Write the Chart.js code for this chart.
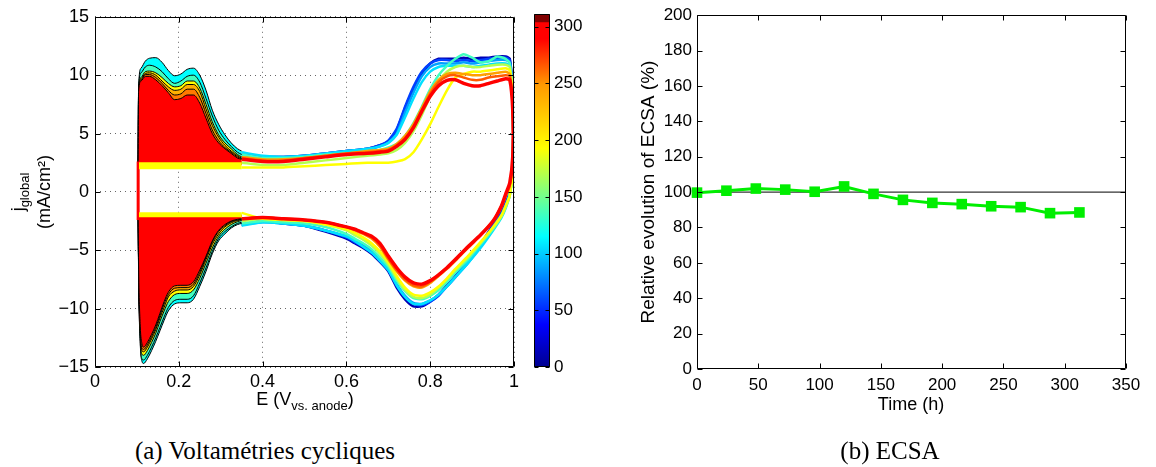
<!DOCTYPE html>
<html><head><meta charset="utf-8">
<script src="https://cdn.jsdelivr.net/npm/chart.js@4.4.0/dist/chart.umd.min.js"></script>
<style>
body{margin:0;background:#fff;}
#wrap{position:relative;width:1156px;height:467px;overflow:hidden;background:#fff;font-family:'Liberation Sans',Arial,sans-serif;color:#000;}
canvas{position:absolute;top:0;}
.cap{position:absolute;top:436px;line-height:30px;font-family:'Liberation Serif','Times New Roman',serif;font-size:25px;white-space:nowrap;transform:translateX(-50%);}
#ylab{position:absolute;left:31px;top:192px;transform:translate(-50%,-50%) rotate(-90deg);text-align:center;font-size:18px;line-height:26px;white-space:nowrap;}
#xlab{position:absolute;left:305px;top:388px;transform:translateX(-50%);font-size:18px;line-height:22px;white-space:nowrap;}
#tlab{position:absolute;left:911px;top:393px;transform:translateX(-50%);font-size:18px;line-height:22px;white-space:nowrap;}
sub{font-size:13px;line-height:0;vertical-align:-5px;}
</style></head>
<body><div id="wrap">
<canvas id="cv" width="525" height="420" style="left:0"></canvas>
<canvas id="cb" width="80" height="420" style="left:520px"></canvas>
<canvas id="ecsa" width="556" height="420" style="left:600px"></canvas>
<div id="ylab"><div>j<sub>global</sub></div><div>(mA/cm²)</div></div>
<div id="xlab">E (V<sub>vs. anode</sub>)</div>
<div id="tlab">Time (h)</div>
<div class="cap" style="left:265px">(a) Voltamétries cycliques</div>
<div class="cap" style="left:890px">(b) ECSA</div>
</div>
<script>
// ================= DATA =================
// --- (a) cyclic voltammetry: anodic (up) and cathodic (down) branches, E > 0.35 V
const UP_E = [0.35,0.40,0.45,0.50,0.55,0.60,0.65,0.68,0.70,0.72,0.74,0.76,0.78,0.80,0.82,0.84,0.86,0.88,0.90,0.92,0.94,0.96,0.98,0.99,0.997];
const DN_E = [0.997,0.99,0.98,0.97,0.95,0.92,0.89,0.86,0.84,0.82,0.80,0.78,0.76,0.74,0.72,0.70,0.68,0.66,0.64,0.62,0.60,0.55,0.50,0.45,0.40,0.35];

const J_UP_0   = [3.3,3.0,3.0,3.1,3.3,3.5,3.7,4.0,4.3,5.3,7.2,8.8,10.1,11.0,11.4,11.4,11.4,11.5,11.4,11.5,11.5,11.6,11.6,11.4,8.0];
const J_DN_0   = [2.0,0.0,-0.9,-1.7,-2.8,-4.5,-5.9,-7.2,-8.0,-8.8,-9.4,-9.8,-9.8,-9.2,-8.2,-6.8,-6.0,-5.3,-4.8,-4.4,-4.0,-3.4,-2.9,-2.7,-2.5,-2.8];
const J_UP_48  = [3.3,3.0,3.0,3.1,3.3,3.5,3.7,4.0,4.4,5.4,7.3,9.0,10.3,11.0,11.3,11.3,11.2,11.3,11.2,11.3,11.4,11.5,11.5,11.3,8.0];
const J_DN_48  = [2.0,0.0,-1.0,-1.8,-2.9,-4.6,-6.0,-7.3,-8.1,-8.9,-9.4,-9.7,-9.6,-9.0,-8.0,-6.7,-5.9,-5.2,-4.7,-4.3,-3.9,-3.3,-2.9,-2.7,-2.5,-2.8];
const J_UP_96  = [3.2,2.9,2.9,3.0,3.2,3.4,3.6,3.9,4.2,5.0,6.8,8.5,9.9,10.7,11.0,11.0,11.0,11.1,11.0,11.1,11.2,11.3,11.3,11.1,8.0];
const J_DN_96  = [2.0,-0.2,-1.2,-2.0,-3.1,-4.7,-6.1,-7.3,-8.1,-8.8,-9.3,-9.6,-9.5,-8.9,-7.9,-6.6,-5.8,-5.1,-4.6,-4.2,-3.8,-3.3,-2.9,-2.7,-2.6,-2.8];
const J_UP_120 = [3.4,3.1,3.0,3.1,3.3,3.5,3.7,3.9,4.2,4.9,6.4,8.0,9.4,10.3,10.7,10.8,10.8,10.8,10.7,10.8,10.9,11.0,11.0,10.8,8.0];
const J_DN_120 = [2.0,-0.3,-1.4,-2.2,-3.3,-4.8,-6.1,-7.3,-8.1,-8.8,-9.3,-9.6,-9.6,-9.0,-8.0,-6.7,-5.9,-5.2,-4.7,-4.2,-3.8,-3.3,-2.9,-2.7,-2.6,-2.9];
const J_UP_144 = [3.2,2.9,2.9,3.0,3.2,3.3,3.5,3.6,3.8,4.1,4.8,5.9,7.3,8.8,10.0,10.8,11.4,11.8,11.5,11.1,11.2,11.6,11.4,11.0,8.0];
const J_DN_144 = [2.0,-0.2,-1.3,-2.1,-3.2,-4.5,-5.8,-6.9,-7.7,-8.4,-8.9,-9.2,-9.1,-8.5,-7.6,-6.4,-5.6,-4.9,-4.4,-4.0,-3.6,-3.0,-2.7,-2.6,-2.5,-2.7];
const J_UP_192 = [2.5,2.3,2.3,2.5,2.7,2.9,3.1,3.2,3.3,3.6,4.2,5.2,6.6,8.2,9.5,10.3,10.7,10.8,10.7,10.7,10.8,10.9,10.9,10.7,7.5];
const J_DN_192 = [2.0,-0.3,-1.3,-2.1,-3.1,-4.4,-5.6,-6.7,-7.5,-8.2,-8.8,-9.1,-9.0,-8.4,-7.4,-6.2,-5.3,-4.6,-4.1,-3.7,-3.3,-2.8,-2.5,-2.4,-2.3,-2.5];
const J_UP_216 = [2.1,2.1,2.1,2.2,2.3,2.4,2.5,2.5,2.5,2.6,2.8,3.4,4.5,5.8,7.3,8.7,9.8,10.1,10.3,10.3,10.4,10.5,10.6,10.4,7.5];
const J_DN_216 = [2.0,-0.3,-1.2,-2.0,-3.0,-4.3,-5.5,-6.6,-7.4,-8.1,-8.6,-8.9,-8.8,-8.2,-7.2,-6.0,-5.1,-4.4,-3.9,-3.5,-3.2,-2.8,-2.5,-2.4,-2.3,-1.8];
const J_UP_264 = [3.0,2.8,2.8,2.9,3.1,3.3,3.5,3.6,3.7,4.1,4.8,5.8,7.2,8.6,9.6,10.1,10.2,10.1,10.0,10.0,10.1,10.2,10.3,10.1,7.5];
const J_DN_264 = [2.5,0.5,-0.4,-1.3,-2.5,-3.7,-4.8,-5.9,-6.6,-7.2,-7.8,-8.2,-8.1,-7.6,-6.8,-5.8,-4.7,-4.0,-3.6,-3.3,-3.0,-2.6,-2.4,-2.3,-2.2,-2.3];
const J_UP_288 = [2.9,2.7,2.7,2.9,3.1,3.3,3.4,3.5,3.6,4.0,4.6,5.6,7.0,8.4,9.4,9.9,10.0,9.8,9.6,9.6,9.8,9.9,10.0,9.9,7.5];
const J_DN_288 = [2.8,0.6,-0.3,-1.2,-2.5,-3.7,-4.8,-5.8,-6.5,-7.1,-7.7,-8.1,-8.0,-7.5,-6.7,-5.7,-4.6,-3.9,-3.5,-3.2,-3.0,-2.6,-2.4,-2.3,-2.2,-2.3];
const J_UP_312 = [2.8,2.6,2.6,2.8,3.0,3.2,3.3,3.4,3.5,3.9,4.5,5.5,6.9,8.2,9.1,9.55,9.6,9.3,9.1,9.1,9.3,9.5,9.7,9.6,7.0];
const J_DN_312 = [3.0,0.8,-0.2,-1.2,-2.5,-3.7,-4.7,-5.8,-6.5,-7.1,-7.6,-7.9,-7.8,-7.3,-6.5,-5.5,-4.4,-3.8,-3.5,-3.2,-3.0,-2.6,-2.4,-2.3,-2.2,-2.3];

// --- hydrogen region (integrated areas), E <= 0.35 V
const H_UP_E = [0.103,0.104,0.11,0.12,0.13,0.145,0.16,0.175,0.19,0.205,0.22,0.235,0.25,0.265,0.28,0.295,0.31,0.325,0.34,0.35];
const H_LO_E = [0.103,0.104,0.108,0.112,0.116,0.125,0.135,0.145,0.155,0.165,0.175,0.19,0.205,0.22,0.235,0.25,0.265,0.28,0.295,0.31,0.325,0.34,0.35];
const H_UP_BASE = 2.3;
const H_LO_BASE = -1.95;
const HU_CYAN   = [2.3,9.0,10.6,11.2,11.45,11.5,11.1,10.4,9.95,10.1,10.5,10.6,10.0,8.7,7.0,5.8,4.9,4.2,3.7,3.5];
const HU_AQUA   = [2.3,8.8,10.2,10.7,10.85,10.7,10.3,9.7,9.3,9.5,9.9,10.0,9.4,8.0,6.5,5.3,4.5,3.9,3.4,3.2];
const HU_YELLOW = [2.3,8.7,9.8,10.3,10.35,10.2,9.8,9.3,9.0,9.1,9.5,9.5,8.9,7.5,6.0,4.9,4.2,3.7,3.2,3.0];
const HU_ORANGE = [2.3,8.6,9.7,10.15,10.2,10.0,9.5,9.0,8.7,8.8,9.2,9.2,8.6,7.1,5.7,4.7,4.0,3.5,3.1,2.9];
const HU_DORANGE= [2.3,8.6,9.6,10.05,10.05,9.8,9.3,8.7,8.3,8.4,8.8,8.8,8.1,6.7,5.3,4.4,3.8,3.4,3.0,2.85];
const HU_RED    = [2.3,8.6,9.5,9.9,9.9,9.6,9.1,8.5,7.9,8.0,8.3,8.3,7.6,6.3,5.0,4.2,3.7,3.3,2.9,2.8];
const HL_CYAN   = [-1.95,-7.0,-13.0,-14.5,-14.7,-14.3,-13.6,-12.8,-11.9,-11.0,-10.2,-9.6,-9.5,-9.5,-9.2,-8.1,-6.8,-5.3,-4.2,-3.6,-3.1,-2.8,-2.7];
const HL_AQUA   = [-1.95,-6.8,-12.8,-14.3,-14.4,-14.0,-13.3,-12.5,-11.6,-10.7,-9.9,-9.3,-9.2,-9.2,-8.9,-7.8,-6.5,-5.1,-4.0,-3.4,-3.0,-2.7,-2.6];
const HL_YELLOW = [-1.95,-6.5,-12.3,-13.9,-14.0,-13.6,-12.9,-12.1,-11.1,-10.2,-9.4,-8.8,-8.7,-8.7,-8.4,-7.4,-6.1,-4.8,-3.8,-3.2,-2.8,-2.55,-2.45];
const HL_ORANGE = [-1.95,-6.3,-12.0,-13.6,-13.7,-13.3,-12.6,-11.8,-10.8,-9.9,-9.0,-8.5,-8.4,-8.4,-8.1,-7.1,-5.8,-4.5,-3.6,-3.0,-2.65,-2.45,-2.4];
const HL_DORANGE= [-1.95,-6.2,-11.8,-13.4,-13.5,-13.1,-12.4,-11.6,-10.6,-9.6,-8.8,-8.25,-8.2,-8.2,-7.9,-6.9,-5.6,-4.3,-3.4,-2.9,-2.55,-2.4,-2.35];
const HL_RED    = [-1.95,-6.0,-11.5,-13.0,-13.3,-12.9,-12.2,-11.4,-10.4,-9.4,-8.6,-8.05,-8.0,-8.0,-7.7,-6.7,-5.5,-4.2,-3.3,-2.8,-2.5,-2.35,-2.3];
const BAND_E = [0.105, 0.35];
const BAND_UP_J = 2.25;
const BAND_LO_J = -1.95;
const EDGE_E = [0.103, 0.103];
const EDGE_J = [-2.4, 2.6];

// --- colour bar (time, h)
const CB_MIN = 0, CB_MAX = 311;
const CB_TICKS = [0,50,100,150,200,250,300];

// --- (b) ECSA
const TIME_H   = [0,24,48,72,96,120,144,168,192,216,240,264,288,312];
const ECSA_REL = [99.7,100.8,102.0,101.4,100.2,103.2,99.0,95.6,93.9,93.2,92.0,91.5,88.1,88.5];
const ECSA_REF = 100;
const TIME_RANGE = [0, 350];

// ================= STYLE =================
Chart.defaults.font.family = "'Liberation Sans', Arial, Helvetica, sans-serif";
Chart.defaults.color = '#000';

const matlabFrame = {
  id: 'matlabFrame',
  afterDraw(chart, args, opts) {
    const {ctx, chartArea: a} = chart;
    const L = opts.len || 5;
    const l = Math.round(a.left) + 0.5, r = Math.round(a.right) - 0.5;
    const t = Math.round(a.top) + 0.5, b = Math.round(a.bottom) - 0.5;
    ctx.save();
    ctx.strokeStyle = '#000'; ctx.lineWidth = 1; ctx.setLineDash([]);
    ctx.beginPath();
    ctx.rect(l, t, r - l, b - t);
    if (opts.xTicks !== false) {
      const xs = chart.scales.x;
      xs.ticks.forEach((tk, i) => {
        const px = Math.round(xs.getPixelForTick(i)) + 0.5;
        ctx.moveTo(px, b); ctx.lineTo(px, b - L);
        ctx.moveTo(px, t); ctx.lineTo(px, t + L);
      });
    }
    const ys = chart.scales.y;
    ys.ticks.forEach((tk, i) => {
      const py = Math.round(ys.getPixelForTick(i)) + 0.5;
      ctx.moveTo(l, py); ctx.lineTo(l + L, py);
      ctx.moveTo(r, py); ctx.lineTo(r - L, py);
    });
    ctx.stroke();
    ctx.restore();
  }
};

const pts = (xs, ys) => xs.map((x, i) => ({x, y: Array.isArray(ys) ? ys[i] : ys}));
const loopPts = (up, dn) => pts(UP_E, up).concat(pts(DN_E, dn));

// ================= (a) CV chart =================
const LOOPS = [
  {up: J_UP_312, dn: J_DN_312, color: '#FF0000', w: 3.5},
  {up: J_UP_288, dn: J_DN_288, color: '#FF5A00', w: 2.5},
  {up: J_UP_264, dn: J_DN_264, color: '#FFA000', w: 2.5},
  {up: J_UP_216, dn: J_DN_216, color: '#FFFF00', w: 2.5},
  {up: J_UP_192, dn: J_DN_192, color: '#B4FF50', w: 2.5},
  {up: J_UP_144, dn: J_DN_144, color: '#40FFC0', w: 2.5},
  {up: J_UP_120, dn: J_DN_120, color: '#00E0FF', w: 2.5},
  {up: J_UP_96,  dn: J_DN_96,  color: '#00A0FF', w: 2.5},
  {up: J_UP_48,  dn: J_DN_48,  color: '#0040FF', w: 2.5},
  {up: J_UP_0,   dn: J_DN_0,   color: '#0000B4', w: 2.5}
];
const HLAYERS = [
  {up: HU_RED,     lo: HL_RED,     color: '#FF0000'},
  {up: HU_DORANGE, lo: HL_DORANGE, color: '#FF7A00'},
  {up: HU_ORANGE,  lo: HL_ORANGE,  color: '#FFB000'},
  {up: HU_YELLOW,  lo: HL_YELLOW,  color: '#FFFF00'},
  {up: HU_AQUA,    lo: HL_AQUA,    color: '#40FFC0'},
  {up: HU_CYAN,    lo: HL_CYAN,    color: '#00FFFF'}
];

const cvSets = [];
let ord = 0;
cvSets.push({data: pts(BAND_E, BAND_UP_J), borderColor: '#FFFF00', borderWidth: 7, pointRadius: 0, fill: false, order: ord++, borderCapStyle: 'butt'});
cvSets.push({data: pts(BAND_E, BAND_LO_J), borderColor: '#FFFF00', borderWidth: 5, pointRadius: 0, fill: false, order: ord++, borderCapStyle: 'butt'});
cvSets.push({data: pts(EDGE_E, EDGE_J), borderColor: '#FF0000', borderWidth: 3, pointRadius: 0, fill: false, order: ord++});
HLAYERS.forEach(h => {
  cvSets.push({data: pts(H_UP_E, h.up), borderColor: '#000', borderWidth: 1, backgroundColor: h.color,
    fill: {value: H_UP_BASE}, pointRadius: 0, cubicInterpolationMode: 'monotone', order: ord++});
  cvSets.push({data: pts(H_LO_E, h.lo), borderColor: '#000', borderWidth: 1, backgroundColor: h.color,
    fill: {value: H_LO_BASE}, pointRadius: 0, cubicInterpolationMode: 'monotone', order: ord++});
});
LOOPS.forEach(c => {
  cvSets.push({data: loopPts(c.up, c.dn), borderColor: c.color, borderWidth: c.w, pointRadius: 0,
    fill: false, tension: 0.2, order: ord++, borderJoinStyle: 'round'});
});

const fmtE = v => v === 0 ? '0' : (Math.abs(v - 1) < 1e-9 ? '1' : v.toFixed(1));
const fmtJ = v => v < 0 ? '\u2212' + Math.abs(v) : String(v);

new Chart(document.getElementById('cv'), {
  type: 'line',
  data: {datasets: cvSets},
  plugins: [matlabFrame],
  options: {
    responsive: false, animation: false, events: [],
    layout: {padding: {left: 0, top: 13, right: 11, bottom: 0}},
    plugins: {legend: {display: false}, tooltip: {enabled: false}, matlabFrame: {len: 5}},
    scales: {
      x: {type: 'linear', min: 0, max: 1,
        ticks: {stepSize: 0.2, padding: 4, callback: fmtE, font: {size: 18}, maxRotation: 0},
        grid: {color: 'rgba(0,0,0,0.6)', lineWidth: 1, drawTicks: false},
        border: {display: false, dash: [1, 4]},
        afterFit: s => { s.height = 53; }},
      y: {type: 'linear', min: -15, max: 15,
        ticks: {stepSize: 5, padding: 6, callback: fmtJ, font: {size: 18}},
        grid: {color: 'rgba(0,0,0,0.6)', lineWidth: 1, drawTicks: false},
        border: {display: false, dash: [1, 4]},
        afterFit: s => { s.width = 95; }}
    }
  }
});

// ================= colour bar =================
const CB_STOPS = [[0,'#000090'],[0.12,'#0000FF'],[0.37,'#00FFFF'],[0.62,'#FFFF00'],[0.8,'#FF9900'],[0.93,'#FF0000'],[0.976,'#FF0000'],[0.978,'#800000'],[1,'#800000']];
new Chart(document.getElementById('cb'), {
  type: 'bar',
  data: {labels: [''], datasets: [{
    data: [[CB_MIN, CB_MAX]], borderWidth: 0, barPercentage: 1, categoryPercentage: 1,
    backgroundColor: c => {
      const a = c.chart.chartArea; if (!a) return '#00f';
      const g = c.chart.ctx.createLinearGradient(0, a.bottom, 0, a.top);
      CB_STOPS.forEach(s => g.addColorStop(s[0], s[1]));
      return g;
    }
  }]},
  plugins: [matlabFrame],
  options: {
    responsive: false, animation: false, events: [],
    layout: {padding: {left: 14, top: 13, right: 0, bottom: 53}},
    plugins: {legend: {display: false}, tooltip: {enabled: false}, matlabFrame: {len: 4, xTicks: false}},
    scales: {
      x: {display: false},
      y: {position: 'right', min: CB_MIN, max: CB_MAX,
        afterBuildTicks: s => { s.ticks = CB_TICKS.map(v => ({value: v})); },
        ticks: {padding: 4, font: {size: 17}},
        grid: {display: false, drawTicks: false}, border: {display: false},
        afterFit: s => { s.width = 50; }}
    }
  }
});

// ================= (b) ECSA =================
new Chart(document.getElementById('ecsa'), {
  type: 'line',
  data: {datasets: [
    {data: pts(TIME_H, ECSA_REL), borderColor: '#00EE00', backgroundColor: '#00EE00', borderWidth: 3,
      pointStyle: 'rect', pointRadius: 7.5, pointBorderWidth: 0, fill: false, tension: 0, order: 0, clip: false},
    {data: pts(TIME_RANGE, ECSA_REF), borderColor: '#000', borderWidth: 1, pointRadius: 0, fill: false, order: 1}
  ]},
  plugins: [matlabFrame],
  options: {
    responsive: false, animation: false, events: [],
    layout: {padding: {left: 0, top: 14, right: 30, bottom: 0}},
    plugins: {legend: {display: false}, tooltip: {enabled: false}, matlabFrame: {len: 5}},
    scales: {
      x: {type: 'linear', min: 0, max: 350,
        ticks: {stepSize: 50, padding: 6, font: {size: 17}, maxRotation: 0},
        grid: {display: false, drawTicks: false}, border: {display: false},
        afterFit: s => { s.height = 51; }},
      y: {type: 'linear', min: 0, max: 200,
        ticks: {stepSize: 20, padding: 5, font: {size: 17}},
        grid: {display: false, drawTicks: false}, border: {display: false},
        title: {display: true, text: 'Relative evolution of ECSA (%)', font: {size: 19}, padding: {top: 37, bottom: 0}},
        afterFit: s => { s.width = 97; }}
    }
  }
});
</script>
</body></html>
